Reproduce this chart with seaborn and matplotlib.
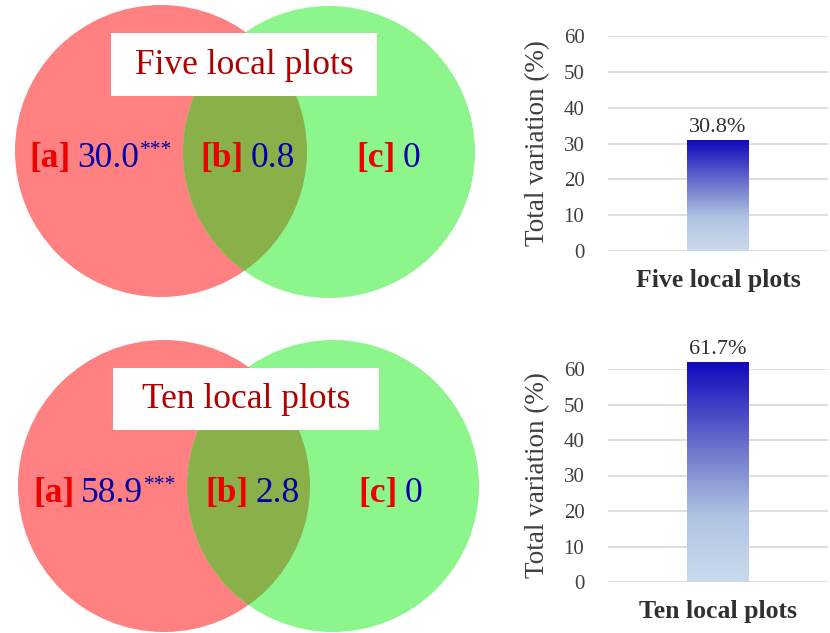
import numpy as np
import pandas as pd
import seaborn as sns
import matplotlib.pyplot as plt
from matplotlib.patches import Circle, Rectangle
from matplotlib.colors import LinearSegmentedColormap

# data
panels = ['Five local plots', 'Ten local plots']
part_labels = ['[a]', '[b]', '[c]']
part_a = ['30.0', '58.9']
part_b = ['0.8', '2.8']
part_c = ['0', '0']
signif = ['***', '***']
total_var = [30.8, 61.7]
yticks = [0, 10, 20, 30, 40, 50, 60]

sns.set_style('white')
plt.rcParams['font.family'] = ['Liberation Serif', 'DejaVu Serif']

W, H = 830, 633
fig = plt.figure(figsize=(W / 100, H / 100), dpi=100)

# ---- Venn diagrams (drawn in pixel coordinates) ----
vax = fig.add_axes([0, 0, 600 / W, 1])
vax.set_xlim(0, 600)
vax.set_ylim(H, 0)
vax.axis('off')

red_fill = '#ff8080'
green_fill = '#8cf58c'
overlap_fill = '#8ab04a'

venn_layout = [
    dict(red=(161, 151), green=(329, 152), r=146, box=(111, 33, 266, 63),
         title=(244, 66), row=167, xs=(29, 200, 356)),
    dict(red=(164, 486), green=(333, 486), r=146, box=(113, 368, 266, 62),
         title=(246, 400), row=502, xs=(33, 205, 358)),
]

fig.canvas.draw()
renderer = fig.canvas.get_renderer()
inv = vax.transData.inverted()


def text_right(t):
    bb = t.get_window_extent(renderer)
    return inv.transform((bb.x1, bb.y0))[0]


for i, lay in enumerate(venn_layout):
    r = lay['r']
    vax.add_patch(Circle(lay['red'], r, color=red_fill, lw=0))
    g = Circle(lay['green'], r, color=green_fill, lw=0)
    vax.add_patch(g)
    ov = Circle(lay['red'], r, color=overlap_fill, lw=0)
    vax.add_patch(ov)
    ov.set_clip_path(g)

    bx, by, bw, bh = lay['box']
    vax.add_patch(Rectangle((bx, by), bw, bh, color='white', lw=0))
    vax.text(*lay['title'], panels[i], color='#b00000', fontsize=25.5,
             ha='center', va='center')

    vals = [part_a[i], part_b[i], part_c[i]]
    for k in range(3):
        x0 = lay['xs'][k]
        y0 = lay['row']
        t1 = vax.text(x0, y0, part_labels[k], color='#ee0000', fontsize=25.5,
                      fontweight='bold', ha='left', va='baseline')
        x1 = text_right(t1) + 7
        t2 = vax.text(x1, y0, vals[k], color='#0000a8', fontsize=25.5,
                      ha='left', va='baseline')
        if k == 0:
            x2 = text_right(t2) + 1
            vax.text(x2, y0 - 12, signif[i], color='#0000a8', fontsize=15.5,
                     ha='left', va='baseline')

# ---- bar charts ----
cmap = LinearSegmentedColormap.from_list(
    'blues', [(0, '#cbd9ec'), (0.3, '#b0c4e2'), (0.6, '#6f76cc'), (1, '#1008bc')])

bar_axes = [
    fig.add_axes([608 / W, 1 - 251 / H, 220 / W, 215 / H]),
    fig.add_axes([608 / W, 1 - 582 / H, 220 / W, 213 / H]),
]

for i, ax in enumerate(bar_axes):
    df = pd.DataFrame({'panel': [panels[i]], 'value': [total_var[i]]})
    sns.barplot(data=df, x='panel', y='value', ax=ax, width=0.28,
                color='#1008bc', edgecolor='none')
    ax.set_xlim(-0.5, 0.5)
    ax.set_ylim(0, 60)
    ax.set_yticks(yticks)
    ax.grid(axis='y', color='#d9d9d9', lw=1.2)
    ax.set_axisbelow(True)
    for s in ax.spines.values():
        s.set_visible(False)
    ax.tick_params(axis='y', length=0, pad=17, labelsize=15, labelcolor='#404040')
    ax.tick_params(axis='x', length=0, pad=13)
    for lab in ax.get_xticklabels():
        lab.set_fontsize(18.5)
        lab.set_fontweight('bold')
        lab.set_color('#303030')
    ax.set_xlabel('')
    ax.set_ylabel('Total variation (%)', fontsize=19.5, color='#404040', labelpad=10)

    for patch in ax.patches:
        patch.set_clip_on(False)
        x0 = patch.get_x()
        w = patch.get_width()
        h = patch.get_height()
        grad = np.linspace(0, 1, 256).reshape(-1, 1)
        im = ax.imshow(grad, cmap=cmap, origin='lower', aspect='auto',
                       extent=(x0, x0 + w, 0, h), zorder=patch.get_zorder() + 0.1,
                       clip_on=False)
        im.set_clip_path(patch)
        ax.text(x0 + w / 2, h + 1.0, f'{h:.1f}%', ha='center', va='bottom',
                fontsize=16, color='#303030')
    ax.set_xlim(-0.5, 0.5)
    ax.set_ylim(0, 60)

fig.savefig('out.png', dpi=100)
